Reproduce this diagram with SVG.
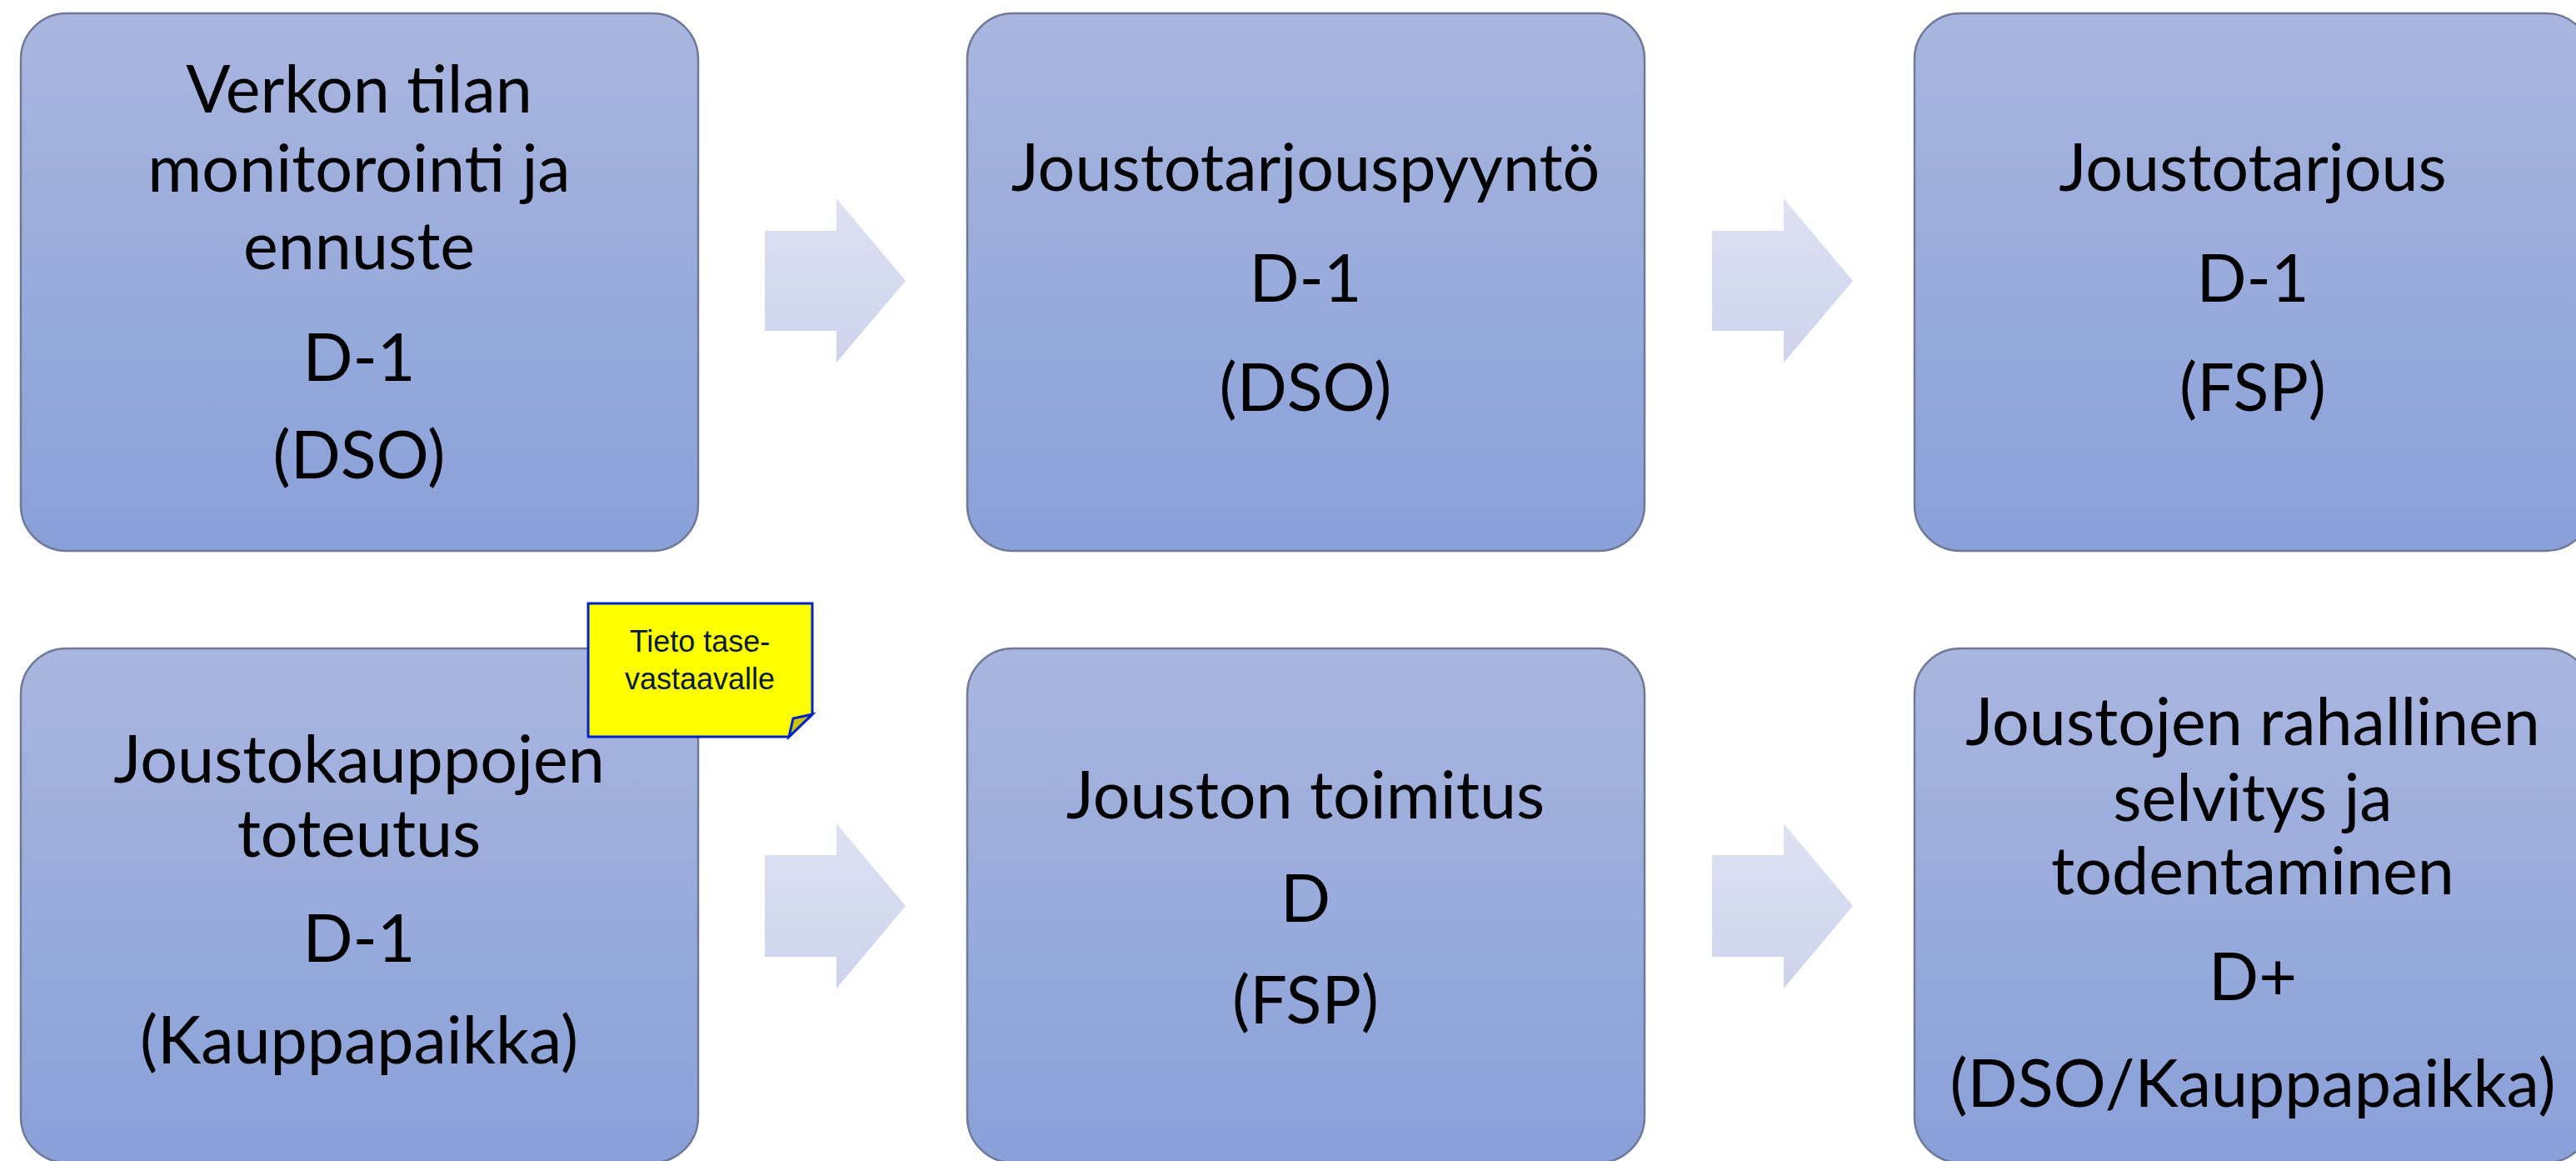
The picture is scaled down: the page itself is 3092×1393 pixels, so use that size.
<svg xmlns="http://www.w3.org/2000/svg" width="3092" height="1393" viewBox="0 0 3092 1393">
<defs>
<linearGradient id="boxGrad" x1="0" y1="0" x2="0" y2="1">
<stop offset="0" stop-color="#a9b6df"/>
<stop offset="1" stop-color="#89a0d8"/>
</linearGradient>
<linearGradient id="arrGrad" x1="0" y1="0" x2="0" y2="1">
<stop offset="0" stop-color="#dde2f2"/>
<stop offset="1" stop-color="#ccd3ec"/>
</linearGradient>
</defs>
<style>
.box{fill:url(#boxGrad);stroke:#6f7a98;stroke-width:2.5}
.t{font-family:Lato,"Open Sans","DejaVu Sans",sans-serif;font-size:79px;fill:#000;text-anchor:middle}
.arrow{fill:url(#arrGrad)}
.note{fill:#ffff00;stroke:#0022cc;stroke-width:3;stroke-linejoin:miter}
.fold{fill:#c8c400;stroke:#0022cc;stroke-width:3;stroke-linejoin:miter}
.nt{font-family:"Liberation Sans",Arial,sans-serif;font-size:36px;fill:#0a1a3a;text-anchor:middle}
</style>
<rect width="3092" height="1393" fill="#ffffff"/>
<g id="connectors">
<path class="arrow" d="M918,277 H1004 V238 L1087,337 L1004,435 V397 H918 Z"/>
<path class="arrow" d="M2055,277 H2141 V238 L2224,337 L2141,435 V397 H2055 Z"/>
<path class="arrow" d="M918,1026 H1004 V988 L1087,1087 L1004,1186 V1148 H918 Z"/>
<path class="arrow" d="M2055,1026 H2141 V988 L2224,1087 L2141,1186 V1148 H2055 Z"/>
</g>
<g id="node1">
<rect class="box" x="25" y="16" width="813" height="645" rx="55" ry="55"/>
<text class="t" x="431" y="135">Verkon tilan</text>
<text class="t" x="431" y="230">monitorointi ja</text>
<text class="t" x="431" y="323">ennuste</text>
<text class="t" x="431" y="457">D-1</text>
<text class="t" x="431" y="574">(DSO)</text>
</g>
<g id="node2">
<rect class="box" x="1161" y="16" width="813" height="645" rx="55" ry="55"/>
<text class="t" x="1567" y="229">Joustotarjouspyyntö</text>
<text class="t" x="1567" y="362">D-1</text>
<text class="t" x="1567" y="493">(DSO)</text>
</g>
<g id="node3">
<rect class="box" x="2298" y="16" width="813" height="645" rx="55" ry="55"/>
<text class="t" x="2704" y="229">Joustotarjous</text>
<text class="t" x="2704" y="362">D-1</text>
<text class="t" x="2704" y="493">(FSP)</text>
</g>
<g id="node4">
<rect class="box" x="25" y="778" width="813" height="617" rx="55" ry="55"/>
<text class="t" x="431" y="939">Joustokauppojen</text>
<text class="t" x="431" y="1028">toteutus</text>
<text class="t" x="431" y="1154">D-1</text>
<text class="t" x="431" y="1276">(Kauppapaikka)</text>
</g>
<g id="node5">
<rect class="box" x="1161" y="778" width="813" height="617" rx="55" ry="55"/>
<text class="t" x="1567" y="982">Jouston toimitus</text>
<text class="t" x="1567" y="1106">D</text>
<text class="t" x="1567" y="1228">(FSP)</text>
</g>
<g id="node6">
<rect class="box" x="2298" y="778" width="813" height="617" rx="55" ry="55"/>
<text class="t" x="2704" y="894">Joustojen rahallinen</text>
<text class="t" x="2704" y="985">selvitys ja</text>
<text class="t" x="2704" y="1073">todentaminen</text>
<text class="t" x="2704" y="1200">D+</text>
<text class="t" x="2704" y="1328">(DSO/Kauppapaikka)</text>
</g>
<g id="note">
<path class="note" d="M706,724 H975 V857 L947,884 H706 Z"/>
<path class="fold" d="M975,857 L952,862 L947,884 Z"/>
<text class="nt" x="840" y="782">Tieto tase-</text>
<text class="nt" x="840" y="827">vastaavalle</text>
</g>
</svg>
